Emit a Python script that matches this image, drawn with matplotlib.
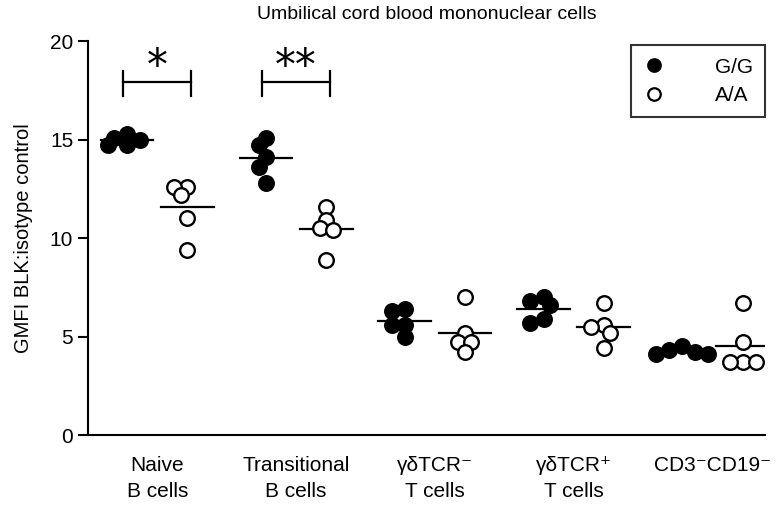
import matplotlib
matplotlib.use("Agg")
import matplotlib.pyplot as plt
import numpy as np

plt.rcParams['font.family'] = ['Liberation Sans', 'DejaVu Sans']

# categories
groups = ["Naive\nB cells", "Transitional\nB cells", "γδTCR\u207b\nT cells",
          "γδTCR\u207a\nT cells", "CD3\u207bCD19\u207b\n"]

# GMFI BLK:isotype control
gg_values = [
    [15.3, 15.1, 15.0, 14.7, 14.7],
    [15.1, 14.7, 14.1, 13.6, 12.8],
    [6.4, 6.3, 5.6, 5.6, 5.0],
    [7.0, 6.8, 6.6, 5.9, 5.7],
    [4.5, 4.3, 4.2, 4.1, 4.1],
]
aa_values = [
    [12.6, 12.6, 12.2, 11.0, 9.4],
    [11.6, 10.9, 10.5, 10.4, 8.9],
    [7.0, 5.2, 4.7, 4.7, 4.2],
    [6.7, 5.6, 5.5, 5.2, 4.4],
    [6.7, 4.7, 3.7, 3.7, 3.7],
]
sig_labels = ["*", "**"]

offset = 0.217
xd = 0.094   # marker diameter in x data units
yd = 0.66    # marker diameter in y data units


def swarm(vals, center):
    # simple beeswarm: put each point nearest the centre without much overlap
    placed = []
    xs = []
    for v in vals:
        for k in [0, -0.5, 0.5, -1, 1, -1.5, 1.5, -2, 2]:
            x = center + k * xd
            ok = True
            for px, py in placed:
                d = np.hypot((x - px) / xd, (v - py) / yd)
                if d < 0.78:
                    ok = False
                    break
            if ok:
                break
        placed.append((x, v))
        xs.append(x)
    return xs


fig = plt.figure(figsize=(7.84, 5.07), dpi=100)
ax = fig.add_axes([0.112, 0.142, 0.864, 0.777])

ms = 10.5
for i in range(len(groups)):
    for vals, c, face in [(gg_values[i], i - offset, 'black'), (aa_values[i], i + offset, 'white')]:
        xs = swarm(vals, c)
        ax.plot(xs, vals, 'o', ms=ms, mfc=face, mec='black', mew=1.7, zorder=3)
        m = np.mean(vals)
        ax.plot([c - 0.19, c + 0.19], [m, m], color='black', lw=1.6, zorder=2)

# significance brackets
for i, lab in enumerate(sig_labels):
    x0, x1 = i - offset - 0.03, i + offset + 0.03
    ax.plot([x0, x1], [17.9, 17.9], color='black', lw=1.6)
    ax.plot([x0, x0], [17.2, 18.5], color='black', lw=1.6)
    ax.plot([x1, x1], [17.2, 18.5], color='black', lw=1.6)
    ax.text((x0 + x1) / 2, 17.6, lab, ha='center', va='bottom', fontsize=30,
            family='DejaVu Sans')

# legend
ax.plot([], [], 'o', ms=9, mfc='black', mec='black', mew=1.6, label='G/G')
ax.plot([], [], 'o', ms=9, mfc='white', mec='black', mew=1.6, label='A/A')
leg = ax.legend(loc='upper right', bbox_to_anchor=(1.0, 0.99), fontsize=15,
                frameon=True, fancybox=False, edgecolor='black',
                handletextpad=2.4, borderpad=0.6, labelspacing=0.45,
                handlelength=1.0, borderaxespad=0)
leg.get_frame().set_linewidth(1.5)

ax.set_xlim(-0.5, 4.38)
ax.set_ylim(0, 20)
ax.set_yticks([0, 5, 10, 15, 20])
ax.set_xticks(range(len(groups)))
ax.set_xticklabels(groups, fontsize=15, linespacing=1.45)
ax.tick_params(axis='x', length=0, pad=15)
ax.tick_params(axis='y', labelsize=15, length=7, width=1.5, direction='out')
ax.set_ylabel("GMFI BLK:isotype control", fontsize=14.5, labelpad=12)
ax.spines['top'].set_visible(False)
ax.spines['right'].set_visible(False)
ax.spines['left'].set_linewidth(1.5)
ax.spines['bottom'].set_linewidth(1.5)
ax.set_title("Umbilical cord blood mononuclear cells", fontsize=14, pad=16)

fig.savefig("out.png", dpi=100)
